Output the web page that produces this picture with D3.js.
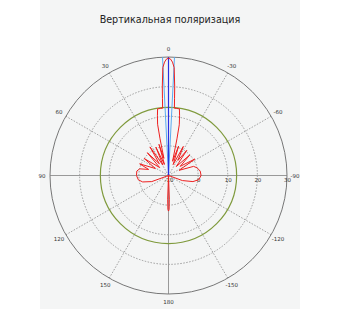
<!DOCTYPE html>
<html>
  <head>
    <meta charset="utf-8">
    <title>Вертикальная поляризация</title>
    <script src="https://d3js.org/d3.v7.min.js"></script>
    <style>
      body { margin: 0; background: #fff; }
      text { font-family: "DejaVu Sans", sans-serif; }
    </style>
  </head>
  <body>
    <script>
      var width = 340;
      var height = 309;
      var cx = 168.5, cy = 175.5, R = 118.5;

      var radialTicks = [-10, 0, 10, 20, 30];
      var angleTicks = [0, 30, 60, 90, 120, 150, 180, -150, -120, -90, -60, -30];
      var thresholdLevel = 13;
      var beamEdges = [2.9, -2.9];
      var beamCentre = 0;

      // [angle in degrees, level in dB]
      var pattern = [
        [-180, 2], [-179, 1.5], [-178, -2], [-176, -10],
        [-115, -10], [-110, -5], [-104, -1.5], [-98, 0.3], [-90, 1], [-82, 0.8], [-75, 0], [-70, -1],
        [-64, -6], [-58, 0.5], [-52, -5], [-46, 0], [-41, -6], [-36, 0.5], [-32, -4], [-27, 1],
        [-23, -6], [-19, 0.5], [-16, -5], [-13, 2.7], [-12, 7.5], [-10.5, 10.5], [-9.3, 12.8],
        [-7, 12.8], [-5, 12.8], [-4.5, 16], [-4, 20], [-3, 26.5], [-2, 28.3], [-1, 29.3],
        [0, 29.6],
        [1, 29.3], [2, 28.3], [3, 26.5], [4, 20], [4.5, 16], [5, 12.8], [7, 12.8], [9.3, 12.8],
        [10.5, 10.5], [12, 7.7], [13, 2.7], [15, -4], [17, 1], [20, -6], [24, 0.5], [28, -6],
        [33, 1.5], [38, -5], [43, 0.5], [48, -6], [55, 0], [62, -5], [68, 0.5], [73, -3],
        [77, 0], [82, 0.8], [90, 0.8], [98, 0.3], [104, -1], [110, -4], [115, -10],
        [176, -10], [178, -2], [179, 1.5], [180, 2]
      ];

      var svg = d3.select("body")
        .append("svg")
        .attr("width", width)
        .attr("height", height);

      svg.append("rect")
        .attr("x", 40).attr("y", 0)
        .attr("width", 260).attr("height", height)
        .attr("fill", "#f4f5f5");

      svg.append("text")
        .attr("x", 170).attr("y", 23)
        .attr("text-anchor", "middle")
        .attr("font-size", 9.6)
        .attr("fill", "#222")
        .text("Вертикальная поляризация");

      var rScale = d3.scaleLinear().domain([-10, 30]).range([0, R]).clamp(true);

      function px(a, v) { return cx - rScale(v) * Math.sin(a * Math.PI / 180); }
      function py(a, v) { return cy - rScale(v) * Math.cos(a * Math.PI / 180); }

      var g = svg.append("g");

      // dotted rings
      g.selectAll(".ring")
        .data(radialTicks.filter(function(d) { return d > -10 && d < 30; }))
        .enter().append("circle")
        .attr("cx", cx).attr("cy", cy)
        .attr("r", function(d) { return rScale(d); })
        .attr("fill", "none")
        .attr("stroke", "#888")
        .attr("stroke-width", 0.8)
        .attr("stroke-dasharray", "1.5,1.5");

      // radial spokes
      g.selectAll(".spoke")
        .data(angleTicks)
        .enter().append("line")
        .attr("x1", cx).attr("y1", cy)
        .attr("x2", function(d) { return px(d, 30); })
        .attr("y2", function(d) { return py(d, 30); })
        .attr("stroke", function(d) { return d % 90 === 0 ? "#999" : "#888"; })
        .attr("stroke-width", function(d) { return d % 90 === 0 ? 1 : 0.8; })
        .attr("stroke-dasharray", function(d) { return d % 90 === 0 ? null : "1.5,1.5"; });

      // outer circle
      g.append("circle")
        .attr("cx", cx).attr("cy", cy)
        .attr("r", rScale(30))
        .attr("fill", "none")
        .attr("stroke", "#777")
        .attr("stroke-width", 1);

      // threshold circle
      g.append("circle")
        .attr("cx", cx).attr("cy", cy)
        .attr("r", rScale(thresholdLevel))
        .attr("fill", "none")
        .attr("stroke", "#7f9a3c")
        .attr("stroke-width", 1.2);

      // angle labels
      g.selectAll(".alabel")
        .data(angleTicks)
        .enter().append("text")
        .attr("x", function(d) { return cx - (R + 8) * Math.sin(d * Math.PI / 180); })
        .attr("y", function(d) { return cy - (R + 8) * Math.cos(d * Math.PI / 180) + 2; })
        .attr("text-anchor", "middle")
        .attr("font-size", 5.5)
        .attr("fill", "#333")
        .text(function(d) { return d; });

      // radial labels
      g.selectAll(".rlabel")
        .data(radialTicks)
        .enter().append("text")
        .attr("x", function(d) { return cx + rScale(d) + 0.5; })
        .attr("y", cy + 6.5)
        .attr("text-anchor", "middle")
        .attr("font-size", 5.5)
        .attr("fill", "#333")
        .text(function(d) { return d; });

      // beam width wedge
      g.selectAll(".edge")
        .data(beamEdges)
        .enter().append("line")
        .attr("x1", cx).attr("y1", cy)
        .attr("x2", function(d) { return px(d, 30); })
        .attr("y2", function(d) { return py(d, 30); })
        .attr("stroke", "#5aaaf0")
        .attr("stroke-width", 1);

      g.append("line")
        .attr("x1", cx).attr("y1", cy)
        .attr("x2", px(beamCentre, 30))
        .attr("y2", py(beamCentre, 30))
        .attr("stroke", "#2a2ee0")
        .attr("stroke-width", 1.2);

      var line = d3.line()
        .x(function(d) { return px(d[0], d[1]); })
        .y(function(d) { return py(d[0], d[1]); });

      g.append("path")
        .datum(pattern)
        .attr("d", line)
        .attr("fill", "none")
        .attr("stroke", "#ee2020")
        .attr("stroke-width", 1)
        .attr("stroke-linejoin", "round");
    </script>
  </body>
</html>
